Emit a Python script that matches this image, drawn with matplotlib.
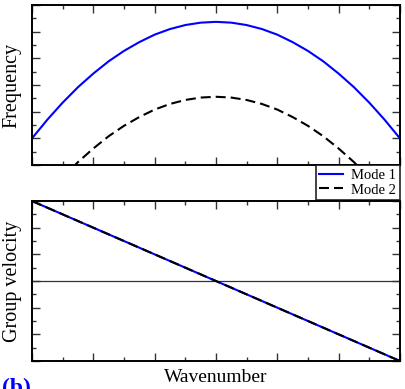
import matplotlib
matplotlib.use('Agg')
import matplotlib.pyplot as plt
from matplotlib.ticker import MultipleLocator, NullFormatter

plt.rcParams['font.family'] = ['Liberation Serif', 'DejaVu Serif']

# Values (arbitrary units)
wavenumber = [-3.0, -2.75, -2.5, -2.25, -2.0, -1.75, -1.5, -1.25, -1.0, -0.75, -0.5, -0.25,
              0.0, 0.25, 0.5, 0.75, 1.0, 1.25, 1.5, 1.75, 2.0, 2.25, 2.5, 2.75, 3.0]
freq_mode1 = [1.00, 1.70, 2.34, 2.92, 3.43, 3.89, 4.28, 4.61, 4.89, 5.10, 5.25, 5.34,
              5.37, 5.34, 5.25, 5.10, 4.89, 4.61, 4.28, 3.89, 3.43, 2.92, 2.34, 1.70, 1.00]
freq_mode2 = [-1.81, -1.11, -0.47, 0.11, 0.62, 1.08, 1.47, 1.80, 2.08, 2.29, 2.44, 2.53,
              2.56, 2.53, 2.44, 2.29, 2.08, 1.80, 1.47, 1.08, 0.62, 0.11, -0.47, -1.11, -1.81]
k_vg = [-3.0, -2.0, -1.0, 0.0, 1.0, 2.0, 3.0]
vg_mode1 = [3.0, 2.0, 1.0, 0.0, -1.0, -2.0, -3.0]
vg_mode2 = [3.0, 2.0, 1.0, 0.0, -1.0, -2.0, -3.0]

fig = plt.figure(figsize=(4.06, 3.89), dpi=100)
ax1 = fig.add_axes([0.0788, 0.5758, 0.9062, 0.4112])
ax2 = fig.add_axes([0.0788, 0.0720, 0.9062, 0.4112])

dash = (0, (4.8, 2.4))

# --- top panel: dispersion ---
ax1.plot(wavenumber, freq_mode1, color='#0000ff', lw=1.5, label='Mode 1')
ax1.plot(wavenumber, freq_mode2, color='black', lw=1.5, ls=dash, label='Mode 2')
ax1.set_xlim(-3, 3)
ax1.set_ylim(0, 6)
ax1.set_ylabel('Frequency', fontsize=14.5, labelpad=4)

# --- bottom panel: group velocity ---
ax2.axhline(0, color='#333333', lw=0.9)
ax2.plot(k_vg, vg_mode1, color='#0000ff', lw=1.5)
ax2.plot(k_vg, vg_mode2, color='black', lw=1.5, ls=dash)
ax2.set_xlim(-3, 3)
ax2.set_ylim(-3, 3)
ax2.set_ylabel('Group velocity', fontsize=14.5, labelpad=4)
ax2.set_xlabel('Wavenumber', fontsize=14, labelpad=2)

for ax in (ax1, ax2):
    ax.xaxis.set_major_locator(MultipleLocator(1))
    ax.xaxis.set_minor_locator(MultipleLocator(0.5))
    ax.yaxis.set_major_locator(MultipleLocator(1))
    ax.yaxis.set_minor_locator(MultipleLocator(0.5))
    ax.xaxis.set_major_formatter(NullFormatter())
    ax.yaxis.set_major_formatter(NullFormatter())
    ax.tick_params(which='both', direction='in', top=True, right=True, color='#333333')
    ax.tick_params(which='major', length=6, width=1)
    ax.tick_params(which='minor', length=3, width=1)
    for s in ax.spines.values():
        s.set_linewidth(1.4)

leg = ax1.legend(loc='upper right', bbox_to_anchor=(1.0, 0.0), borderaxespad=0,
                 fontsize=10.5, frameon=True, fancybox=False, handlelength=1.6,
                 handletextpad=0.6, borderpad=0.25, labelspacing=0.1)
leg.get_frame().set_edgecolor('black')
leg.get_frame().set_linewidth(1.3)

fig.text(0.005, 0.028, '(b)', color='#0000ff', fontsize=17, fontweight='bold',
         ha='left', va='top')

fig.savefig('out.png', dpi=100)
